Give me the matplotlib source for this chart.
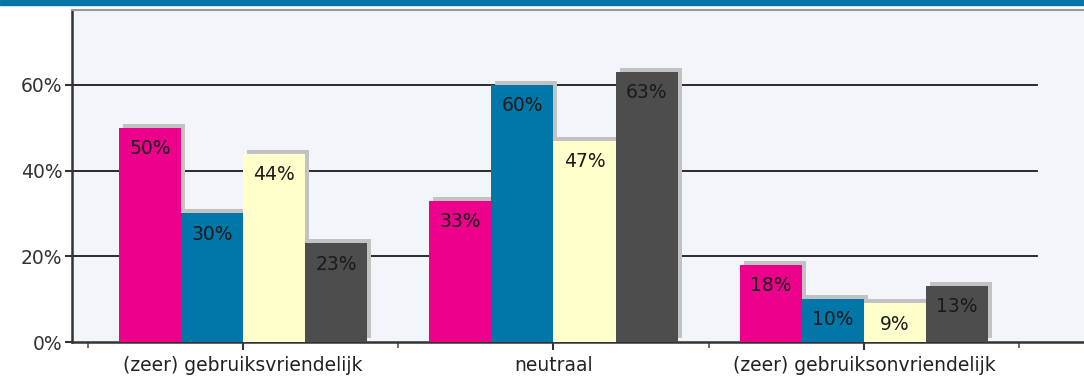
import matplotlib.pyplot as plt
from matplotlib.patches import Rectangle
import numpy as np

categories = ["(zeer) gebruiksvriendelijk", "neutraal", "(zeer) gebruiksonvriendelijk"]
series_a = [50, 33, 18]
series_b = [30, 60, 10]
series_c = [44, 47, 9]
series_d = [23, 63, 13]
colors = ["#EC008C", "#0077A8", "#FFFFCC", "#4D4D4D"]

fig = plt.figure(figsize=(10.84, 3.87), dpi=100)
fig.patches.append(Rectangle((0, 1 - 5 / 387), 1, 5 / 387, transform=fig.transFigure,
                             color="#0077A8", zorder=0))
ax = fig.add_axes([72 / 1084, 1 - 342 / 387, 1 - 72 / 1084, 332 / 387])
ax.set_facecolor("#F2F6FB")

x = np.arange(len(categories))
width = 0.2
dx, dy = 4 / 310.5, 4 * 77.5 / 332

for gl in [20, 40, 60]:
    ax.plot([-0.56, 2.557], [gl, gl], color="#1a1a1a", lw=1.3, zorder=1)

for i, vals in enumerate([series_a, series_b, series_c, series_d]):
    pos = x + (i - 1.5) * width
    ax.bar(pos + dx, vals, width, bottom=dy, color="#C2C2C2", zorder=2)
    ax.bar(pos, vals, width, color=colors[i], zorder=3)
    for p, v in zip(pos, vals):
        ax.text(p, v - 4.8, f"{v}%", ha="center", va="center", fontsize=13.5,
                color="#1a1a1a", zorder=4)

ax.set_xlim(-0.551, 2.709)
ax.set_ylim(0, 77.5)
ax.set_yticks([0, 20, 40, 60])
ax.set_yticklabels(["0%", "20%", "40%", "60%"], fontsize=13.5, color="#333333")
ax.set_xticks(x)
ax.set_xticklabels(categories, fontsize=13.5, color="#222222")
ax.set_xticks([-0.5, 0.5, 1.5, 2.5], minor=True)
ax.tick_params(axis="x", which="major", length=6, width=1.5, color="#333333", pad=4)
ax.tick_params(axis="x", which="minor", length=4, width=1.2, color="#555555")
ax.tick_params(axis="y", length=5, width=1.5, color="#333333", pad=2)

for s in ["left", "bottom"]:
    ax.spines[s].set_color("#333333")
    ax.spines[s].set_linewidth(1.8)
ax.spines["top"].set_color("#999999")
ax.spines["top"].set_linewidth(1.5)
ax.spines["right"].set_visible(False)

fig.savefig("out.png", dpi=100)
